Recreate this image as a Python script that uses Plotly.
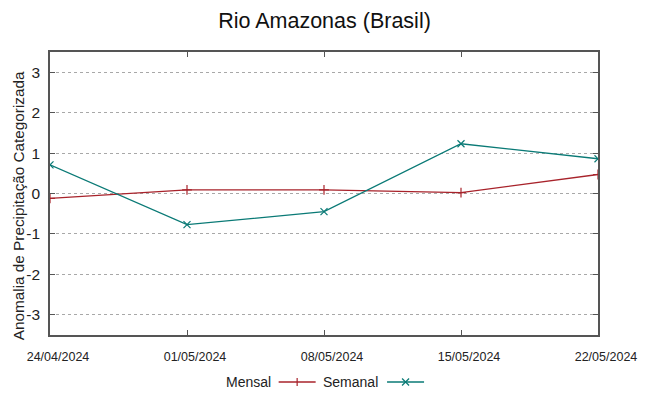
import plotly.graph_objects as go

dates = ["2024-04-24", "2024-05-01", "2024-05-08", "2024-05-15", "2024-05-22"]
tick_labels = ["24/04/2024", "01/05/2024", "08/05/2024", "15/05/2024", "22/05/2024"]
mensal = [-0.12, 0.09, 0.09, 0.02, 0.47]
semanal = [0.71, -0.77, -0.45, 1.23, 0.86]
y_ticks = [-3, -2, -1, 0, 1, 2, 3]
y_tick_labels = ["-3", "-2", "-1", "0", "1", "2", "3"]

RED = "#a8232b"
TEAL = "#0a7a76"
FONT = "Liberation Sans, Arial, sans-serif"

fig = go.Figure()
fig.add_trace(go.Scatter(
    x=dates, y=mensal, name="Mensal", mode="lines+markers",
    line=dict(color=RED, width=1.3),
    marker=dict(symbol="cross-thin", size=7, line=dict(color=RED, width=1.2)),
))
fig.add_trace(go.Scatter(
    x=dates, y=semanal, name="Semanal", mode="lines+markers",
    line=dict(color=TEAL, width=1.3),
    marker=dict(symbol="x-thin", size=7, line=dict(color=TEAL, width=1.2)),
))

# legend (gnuplot style: text then sample)
L, R, T, B = 50, 48, 52, 61
W, H = 649, 396
pw, ph = W - L - R, H - T - B
def px(x):
    return (x - L) / pw
def py(y):
    return (H - B - y) / ph

leg_y = py(382)
annotations = [
    dict(text="Mensal", x=px(274), y=leg_y, xref="paper", yref="paper",
         xanchor="right", yanchor="middle", showarrow=False,
         font=dict(family=FONT, size=14, color="#222")),
    dict(text="Semanal", x=px(382), y=leg_y, xref="paper", yref="paper",
         xanchor="right", yanchor="middle", showarrow=False,
         font=dict(family=FONT, size=14, color="#222")),
    dict(text="Anomalia de Precipitação Categorizada", textangle=-90,
         x=px(18), y=py(206), xref="paper", yref="paper",
         xanchor="center", yanchor="middle", showarrow=False,
         font=dict(family=FONT, size=15.3, color="#222")),
]
shapes = []
for (x0, x1, col, kind) in [(280, 317, RED, "+"), (389, 426, TEAL, "x")]:
    cx = (x0 + x1) / 2
    shapes.append(dict(type="line", xref="paper", yref="paper",
                       xsizemode="pixel", ysizemode="pixel",
                       xanchor=px(cx), yanchor=leg_y,
                       x0=x0 - cx, x1=x1 - cx, y0=0, y1=0,
                       line=dict(color=col, width=1.3)))
    if kind == "+":
        shapes.append(dict(type="line", xref="paper", yref="paper",
                           xsizemode="pixel", ysizemode="pixel",
                           xanchor=px(cx), yanchor=leg_y,
                           x0=0, x1=0, y0=-4, y1=4,
                           line=dict(color=col, width=1.2)))
    else:
        for s in (1, -1):
            shapes.append(dict(type="line", xref="paper", yref="paper",
                               xsizemode="pixel", ysizemode="pixel",
                               xanchor=px(cx), yanchor=leg_y,
                               x0=-3.5, x1=3.5, y0=-3.5 * s, y1=3.5 * s,
                               line=dict(color=col, width=1.2)))

fig.update_layout(
    width=W, height=H,
    margin=dict(l=L, r=R, t=T, b=B),
    paper_bgcolor="white", plot_bgcolor="white",
    showlegend=False,
    title=dict(text="Rio Amazonas (Brasil)", x=0.5, xanchor="center",
               y=1 - 20 / H, yanchor="middle",
               font=dict(family=FONT, size=21.5, color="#111")),
    font=dict(family=FONT, color="#222"),
    annotations=annotations,
    shapes=shapes,
    xaxis=dict(
        type="date", range=[dates[0], dates[-1]],
        tickvals=dates, ticktext=tick_labels,
        tickfont=dict(family=FONT, size=12.5, color="#222"),
        ticks="inside", ticklen=5, tickcolor="#555",
        ticklabelstandoff=9, ticklabelshift=8,
        showgrid=False, zeroline=False,
        showline=True, linecolor="#555", linewidth=1.5, mirror="allticks",
    ),
    yaxis=dict(
        range=[-3.5, 3.5], tickvals=y_ticks, ticktext=y_tick_labels,
        tickfont=dict(family=FONT, size=15.5, color="#222"),
        ticks="inside", ticklen=5, tickcolor="#555",
        ticklabelstandoff=5,
        showgrid=True, gridcolor="#a8a8a8", gridwidth=1, griddash="dot",
        zeroline=False,
        showline=True, linecolor="#555", linewidth=1.5, mirror="allticks",
    ),
)

fig.write_html("out.html", config={"displayModeBar": False},
               post_script="document.body.style.margin='0';document.body.style.overflow='hidden';")
